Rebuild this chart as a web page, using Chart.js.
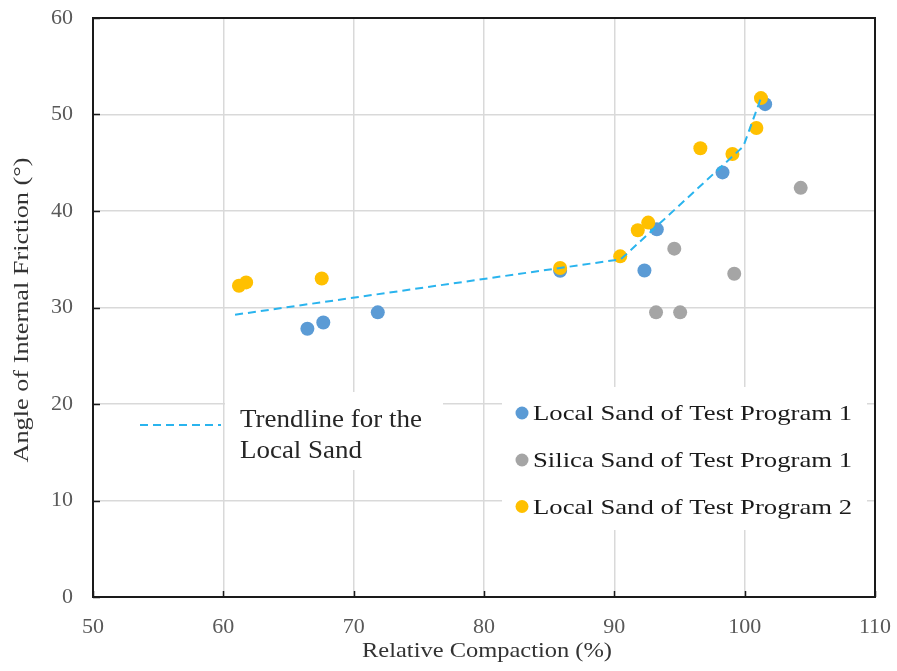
<!DOCTYPE html>
<html>
<head>
<meta charset="utf-8">
<script src="https://cdn.jsdelivr.net/npm/chart.js@4.4.1/dist/chart.umd.min.js"></script>
<style>
  body { margin: 0; background: #fff; }
  canvas { display: block; }
</style>
</head>
<body>
<canvas id="myChart" width="897" height="671"></canvas>
<script>
// data
const localSand1X = [66.45, 67.67, 71.85, 85.84, 92.31, 93.26, 98.3, 101.57];
const localSand1Y = [27.8, 28.45, 29.5, 33.8, 33.84, 38.1, 44.0, 51.07];
const silicaSandX = [93.2, 95.05, 94.6, 99.2, 104.3];
const silicaSandY = [29.5, 29.5, 36.1, 33.5, 42.4];
const localSand2X = [61.2, 61.75, 67.55, 85.84, 90.45, 91.8, 92.6, 96.6, 99.06, 100.9, 101.25];
const localSand2Y = [32.25, 32.6, 33.0, 34.1, 35.3, 38.0, 38.8, 46.5, 45.9, 48.6, 51.7];
const trendX = [60.9, 90.5, 99.9, 101.25];
const trendY = [29.25, 35.0, 46.7, 51.7];
const xTicks = [50, 60, 70, 80, 90, 100, 110];
const yTicks = [0, 10, 20, 30, 40, 50, 60];
const seriesNames = ['Local Sand of Test Program 1', 'Silica Sand of Test Program 1', 'Local Sand of Test Program 2'];
const seriesColors = ['#5b9bd5', '#a5a5a5', '#ffc000'];
const trendColor = '#2ab4ee';

const serif = "'Liberation Serif', 'Times New Roman', serif";

function toPoints(xs, ys) {
    return xs.map(function(x, i) { return { x: x, y: ys[i] }; });
}

// draw text squeezed/stretched to a given width
function fitText(ctx, text, x, y, size, width, align) {
    ctx.font = size + 'px ' + serif;
    var w = ctx.measureText(text).width;
    var s = width / w;
    ctx.save();
    ctx.translate(x, y);
    ctx.scale(s, 1);
    ctx.textAlign = 'left';
    ctx.fillText(text, align === 'center' ? -w / 2 : 0, 0);
    ctx.restore();
}

// legend boxes, frame, inward tick marks and axis titles
const extras = {
    id: 'extras',
    afterDatasetsDraw: function(chart) {
        var ctx = chart.ctx;
        var xs = chart.scales.x, ys = chart.scales.y;
        ctx.save();

        // white boxes behind the legend text
        ctx.fillStyle = '#ffffff';
        ctx.fillRect(225, 392, 218, 78);
        ctx.fillRect(502, 387, 365, 143);

        // trendline legend
        ctx.strokeStyle = trendColor;
        ctx.lineWidth = 2;
        ctx.setLineDash([8, 5]);
        ctx.beginPath();
        ctx.moveTo(140, 425);
        ctx.lineTo(221, 425);
        ctx.stroke();
        ctx.setLineDash([]);
        ctx.fillStyle = '#262626';
        ctx.textBaseline = 'alphabetic';
        fitText(ctx, 'Trendline for the', 240, 427, 25, 182);
        fitText(ctx, 'Local Sand', 240, 458, 25, 122);

        // series legend
        var rows = [420, 467, 513.5];
        for (var i = 0; i < seriesNames.length; i++) {
            ctx.fillStyle = seriesColors[i];
            ctx.beginPath();
            ctx.arc(522, rows[i] - 7, 6.5, 0, Math.PI * 2);
            ctx.fill();
            ctx.fillStyle = '#1a1a1a';
            fitText(ctx, seriesNames[i], 533, rows[i], 22, 319);
        }

        // plot frame
        var a = chart.chartArea;
        ctx.strokeStyle = '#1a1a1a';
        ctx.lineWidth = 2;
        ctx.strokeRect(a.left, a.top, a.right - a.left, a.bottom - a.top);

        // small inward ticks
        ctx.lineWidth = 1.5;
        ctx.beginPath();
        xTicks.forEach(function(v) {
            var px = Math.round(xs.getPixelForValue(v)) + 0.5;
            ctx.moveTo(px, a.bottom);
            ctx.lineTo(px, a.bottom - 6);
        });
        yTicks.forEach(function(v) {
            var py = Math.round(ys.getPixelForValue(v)) + 0.5;
            ctx.moveTo(a.left, py);
            ctx.lineTo(a.left + 7, py);
        });
        ctx.stroke();

        // axis titles
        ctx.fillStyle = '#333333';
        fitText(ctx, 'Relative Compaction (%)', 487, 657, 22, 250, 'center');
        ctx.save();
        ctx.translate(28, 310);
        ctx.rotate(-Math.PI / 2);
        fitText(ctx, 'Angle of Internal Friction (°)', 0, 0, 22, 305, 'center');
        ctx.restore();

        ctx.restore();
    }
};

document.addEventListener('DOMContentLoaded', function() {
    var ctx = document.getElementById('myChart').getContext('2d');
    var myChart = new Chart(ctx, {
        type: 'scatter',
        data: {
            datasets: [{
                label: 'Trendline for the Local Sand',
                data: toPoints(trendX, trendY),
                showLine: true,
                borderColor: trendColor,
                borderWidth: 2,
                borderDash: [8, 5],
                pointRadius: 0,
                fill: false,
                order: 0
            }, {
                label: seriesNames[2],
                data: toPoints(localSand2X, localSand2Y),
                backgroundColor: seriesColors[2],
                borderWidth: 0,
                pointRadius: 7,
                order: 1
            }, {
                label: seriesNames[1],
                data: toPoints(silicaSandX, silicaSandY),
                backgroundColor: seriesColors[1],
                borderWidth: 0,
                pointRadius: 7,
                order: 2
            }, {
                label: seriesNames[0],
                data: toPoints(localSand1X, localSand1Y),
                backgroundColor: seriesColors[0],
                borderWidth: 0,
                pointRadius: 7,
                order: 3
            }]
        },
        options: {
            responsive: false,
            animation: false,
            devicePixelRatio: 1,
            layout: { padding: { top: 18, right: 22, left: 0, bottom: 0 } },
            plugins: {
                legend: { display: false },
                tooltip: { enabled: false }
            },
            scales: {
                x: {
                    type: 'linear',
                    min: 50,
                    max: 110,
                    afterFit: function(scale) {
                        scale.height = 74;
                        scale.paddingLeft = 0;
                        scale.paddingRight = 0;
                    },
                    afterBuildTicks: function(scale) {
                        scale.ticks = xTicks.map(function(v) { return { value: v }; });
                    },
                    grid: { color: '#d9d9d9', lineWidth: 1.5, drawTicks: false },
                    border: { display: false },
                    ticks: {
                        padding: 17,
                        color: '#595959',
                        font: { family: serif, size: 22 }
                    }
                },
                y: {
                    type: 'linear',
                    min: 0,
                    max: 60,
                    afterFit: function(scale) {
                        scale.width = 93;
                        scale.paddingTop = 0;
                        scale.paddingBottom = 0;
                    },
                    afterBuildTicks: function(scale) {
                        scale.ticks = yTicks.map(function(v) { return { value: v }; });
                    },
                    grid: { color: '#d9d9d9', lineWidth: 1.5, drawTicks: false },
                    border: { display: false },
                    ticks: {
                        padding: 20,
                        color: '#595959',
                        font: { family: serif, size: 22 }
                    }
                }
            }
        },
        plugins: [extras]
    });
});
</script>
</body>
</html>
